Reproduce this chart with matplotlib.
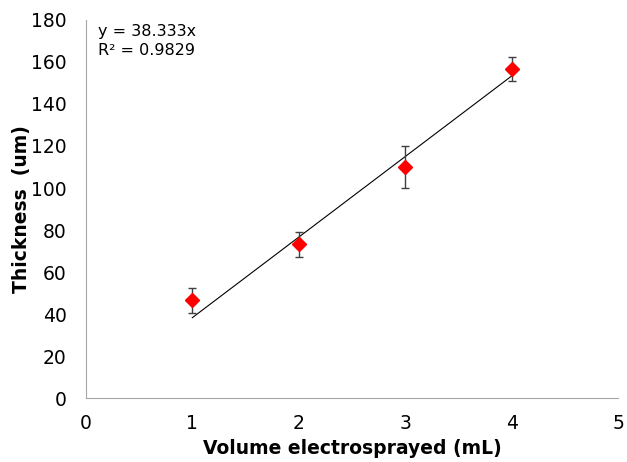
import numpy as np
import matplotlib.pyplot as plt

# volume electrosprayed (mL) vs film thickness (um)
volume = [1, 2, 3, 4]
thickness = [46.5, 73.3, 110.0, 156.7]
err = [6.0, 6.0, 10.0, 5.7]
slope = 38.333
r2 = 0.9829

fig, ax = plt.subplots(figsize=(6.27, 4.62), dpi=100)
fig.subplots_adjust(left=0.137, right=0.986, top=0.957, bottom=0.138)

xfit = np.array([volume[0], volume[-1]])
ax.plot(xfit, slope * xfit, color='black', lw=0.8, zorder=1)
ax.errorbar(volume, thickness, yerr=err, fmt='D', color='red', ms=7.5,
            ecolor='#404040', elinewidth=1, capsize=3, capthick=1, zorder=2)

ax.text(0.022, 0.99, f'y = {slope}x\nR² = {r2}', transform=ax.transAxes,
        ha='left', va='top', fontsize=11.5, linespacing=1.35)

ax.set_xlim(0, 5)
ax.set_ylim(0, 180)
ax.set_xticks(range(0, 6))
ax.set_yticks(range(0, 181, 20))
ax.tick_params(length=0, labelsize=13.5)
ax.tick_params(axis='x', pad=11)
ax.tick_params(axis='y', pad=14)
for s in ['top', 'right']:
    ax.spines[s].set_visible(False)
for s in ['left', 'bottom']:
    ax.spines[s].set_color('#a6a6a6')

ax.set_xlabel('Volume electrosprayed (mL)', fontsize=13.5, fontweight='bold', labelpad=5)
ax.set_ylabel('Thickness  (um)', fontsize=13.5, fontweight='bold', labelpad=0)

plt.savefig('out.png')
